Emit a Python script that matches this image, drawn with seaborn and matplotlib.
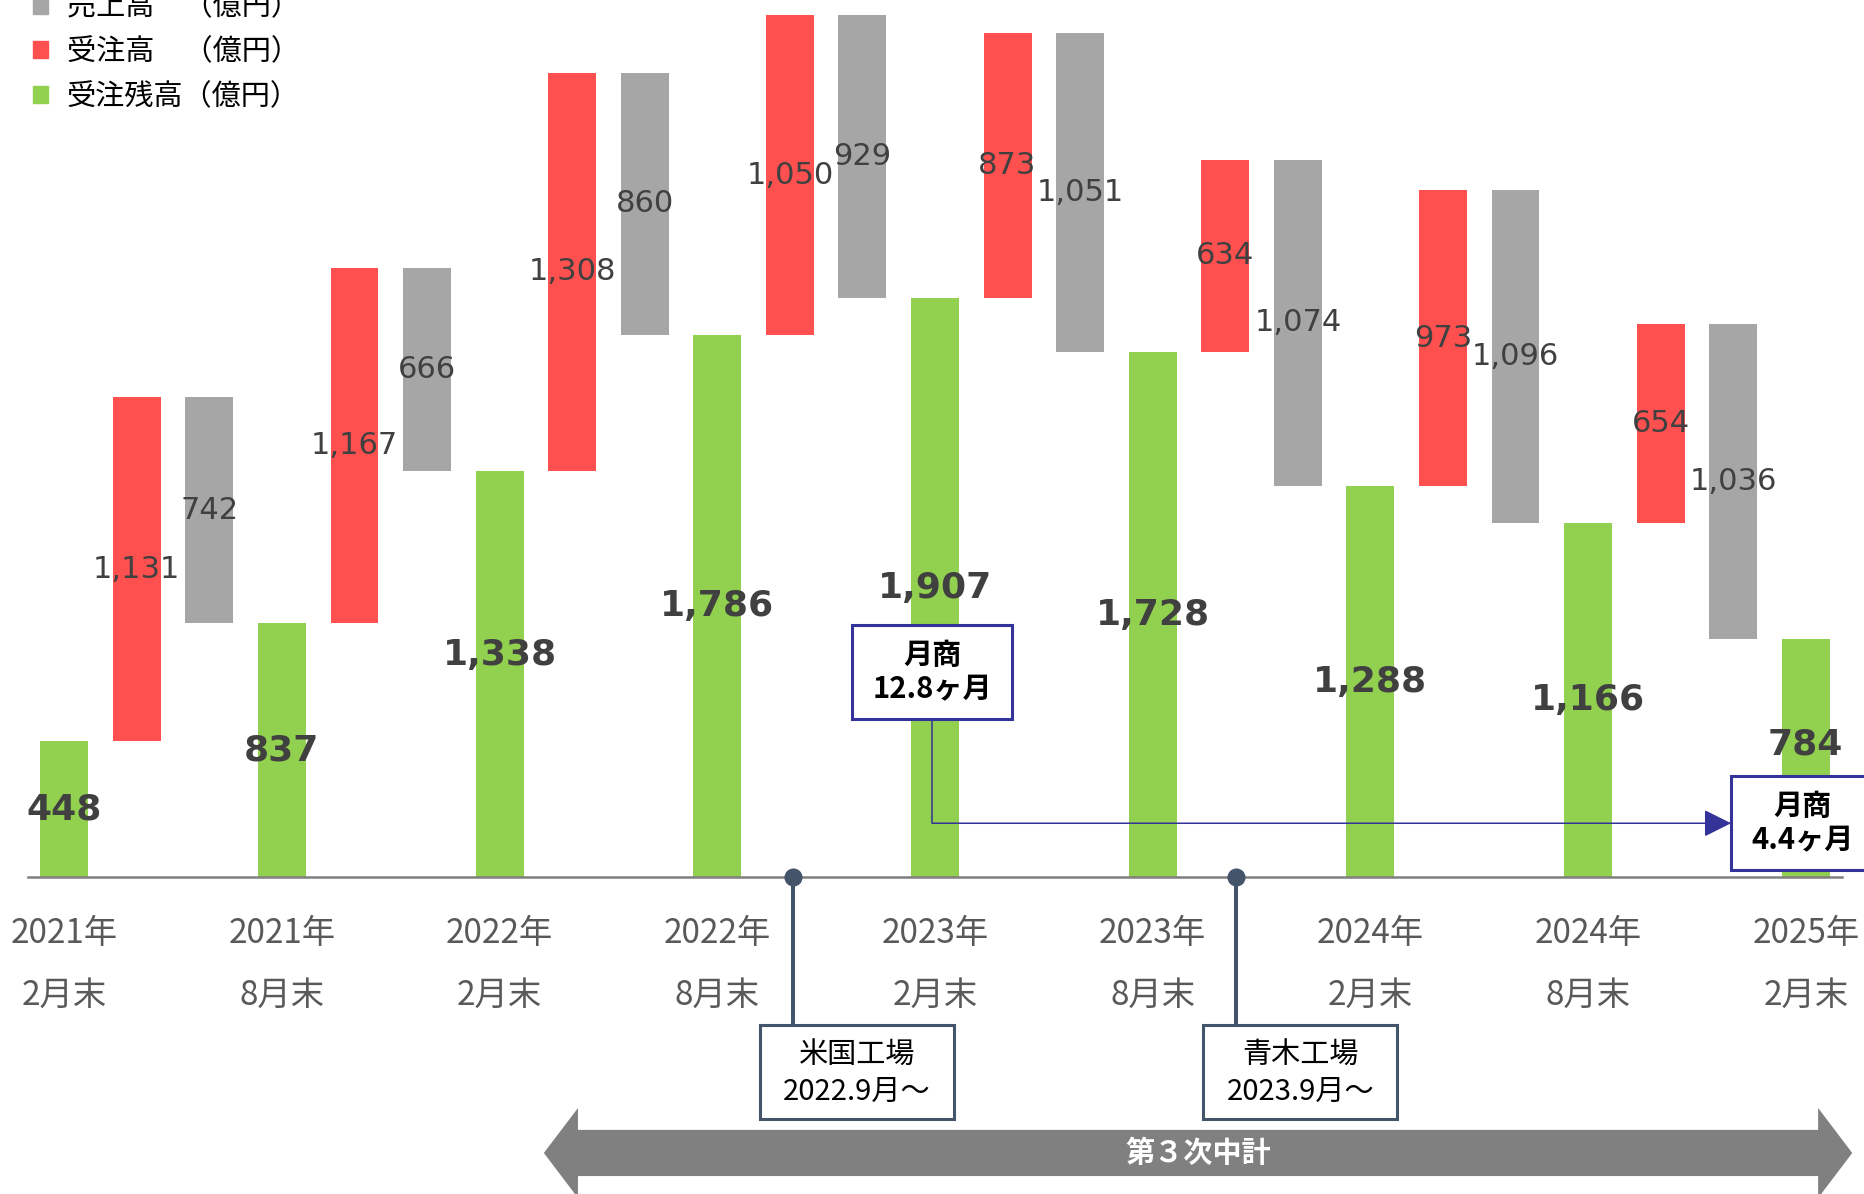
import numpy as np
import matplotlib
matplotlib.use("Agg")
import matplotlib.pyplot as plt
import matplotlib.patches as mpatches
import seaborn as sns

# 期末（半期ごと）
periods = ["2021年\n2月末", "2021年\n8月末", "2022年\n2月末", "2022年\n8月末", "2023年\n2月末",
           "2023年\n8月末", "2024年\n2月末", "2024年\n8月末", "2025年\n2月末"]
# 受注残高（億円）
backlog = [448, 837, 1338, 1786, 1907, 1728, 1288, 1166, 784]
# 半期の受注高（億円）
orders = [1131, 1167, 1308, 1050, 873, 634, 973, 654]
# 半期の売上高（億円）
sales = [742, 666, 860, 929, 1051, 1074, 1096, 1036]

legend_labels = ["売上高　（億円）", "受注高　（億円）", "受注残高（億円）"]
coverage_labels = ["月商\n12.8ヶ月", "月商\n4.4ヶ月"]
plant_labels = ["米国工場\n2022.9月～", "青木工場\n2023.9月～"]
plan_label = "第３次中計"

GREEN = "#92D050"
RED = "#FF5050"
GREY = "#A6A6A6"
NUM_COLOR = "#404040"
TICK_COLOR = "#595959"
NAVY = "#333399"
SLATE = "#44546A"

sns.set_theme(style="white")
plt.rcParams["font.family"] = ["Noto Sans CJK JP", "DejaVu Sans"]

fig = plt.figure(figsize=(18.64, 11.94), dpi=100)
ax = fig.add_axes([0, 0, 1, 1])

# each period occupies three slots: backlog, orders, sales
n = len(backlog)
green_x = 3 * np.arange(n)
red_x = green_x[:-1] + 1
grey_x = green_x[:-1] + 2
bar_w = 0.66

backlog_a = np.array(backlog)
orders_a = np.array(orders)
sales_a = np.array(sales)
grey_bottom = backlog_a[:-1] + orders_a - sales_a

sns.barplot(x=green_x, y=backlog, native_scale=True, orient="x", width=bar_w / 3,
            color=GREEN, saturation=1, errorbar=None, linewidth=0, ax=ax, zorder=2)
green_bars = ax.containers[-1]
sns.barplot(x=red_x, y=orders, bottom=backlog[:-1], native_scale=True, orient="x",
            width=bar_w / 3, color=RED, saturation=1, errorbar=None, linewidth=0, ax=ax, zorder=2)
red_bars = ax.containers[-1]
sns.barplot(x=grey_x, y=sales, bottom=grey_bottom, native_scale=True, orient="x",
            width=bar_w / 3, color=GREY, saturation=1, errorbar=None, linewidth=0, ax=ax, zorder=2)
grey_bars = ax.containers[-1]

ax.set_xlim(-0.8845, 24.802)
ax.set_ylim(-1042, 2887)
ax.set_xlabel("")
ax.set_ylabel("")

# value labels
ax.bar_label(red_bars, labels=[f"{v:,}" for v in orders], label_type="center",
             fontsize=22, color=NUM_COLOR, family="DejaVu Sans", zorder=4)
ax.bar_label(grey_bars, labels=[f"{v:,}" for v in sales], label_type="center",
             fontsize=22, color=NUM_COLOR, family="DejaVu Sans", zorder=4)
green_lift = [0, 0, 14, 0, 0, 0, 0, 0, 10]
for x, v, lift in zip(green_x, backlog, green_lift):
    ax.annotate(f"{v:,}", xy=(x, v / 2), xytext=(0, lift), textcoords="offset points",
                ha="center", va="center", fontsize=26, fontweight="bold",
                color=NUM_COLOR, family="DejaVu Sans", zorder=4)

# baseline and period labels
for side in ["top", "left", "right"]:
    ax.spines[side].set_visible(False)
ax.spines["bottom"].set_position(("data", 0))
ax.spines["bottom"].set_bounds(-0.5, 3 * n - 2.5)
ax.spines["bottom"].set_color("#808080")
ax.spines["bottom"].set_linewidth(1.8)
ax.spines["bottom"].set_zorder(3)
ax.set_yticks([])
ax.set_xticks(green_x, periods)
ax.tick_params(axis="x", length=0, pad=27.5, labelsize=24, labelcolor=TICK_COLOR)
for lbl in ax.get_xticklabels():
    lbl.set_linespacing(2.0)

# legend
handles = [mpatches.Patch(color=c) for c in (GREY, RED, GREEN)]
fig.legend(handles, legend_labels, loc="upper left", bbox_to_anchor=(33 / 1864, 1.0064),
           bbox_transform=fig.transFigure, frameon=False, fontsize=21, labelcolor="black",
           handlelength=0.52, handleheight=0.52, handletextpad=0.64,
           labelspacing=0.51, borderpad=0, borderaxespad=0)

# order coverage boxes and connector
box_w, box_h = 2.205, 309
cov_boxes = [(11.96, 675), (22.97 + box_w / 2, 178)]
cov_text_x = [11.96, 23.95]
for (cx, cy), tx, txt in zip(cov_boxes, cov_text_x, coverage_labels):
    ax.add_patch(mpatches.Rectangle((cx - box_w / 2, cy - box_h / 2), box_w, box_h,
                                    facecolor="white", edgecolor=NAVY, lw=2.2, zorder=6,
                                    clip_on=False))
    ax.text(tx, cy, txt, ha="center", va="center", fontsize=21, fontweight="bold",
            color="black", linespacing=1.16, zorder=7)
link_y = cov_boxes[1][1]
ax.vlines(cov_boxes[0][0], link_y, cov_boxes[0][1] - box_h / 2, color=NAVY, lw=1.1, zorder=5)
ax.annotate("", xy=(cov_boxes[1][0] - box_w / 2, link_y), xytext=(cov_boxes[0][0], link_y),
            arrowprops=dict(arrowstyle="-|>,head_length=1.0,head_width=0.5", mutation_scale=17,
                            color=NAVY, lw=1.1, shrinkA=0, shrinkB=0), zorder=5)

# plant start markers
plant_x = [10.04, 16.15]
pbox_w, pbox_h, pbox_cy = 2.67, 309, -640
for px, txt in zip(plant_x, plant_labels):
    left = px - 0.45
    ax.vlines(px, pbox_cy + pbox_h / 2, 0, color=SLATE, lw=2.9, zorder=5)
    ax.plot([px], [0], "o", ms=12, color=SLATE, zorder=6, clip_on=False)
    ax.add_patch(mpatches.Rectangle((left, pbox_cy - pbox_h / 2), pbox_w, pbox_h,
                                    facecolor="white", edgecolor=SLATE, lw=2.2, zorder=6))
    ax.text(left + pbox_w / 2, pbox_cy - 6, txt, ha="center", va="center", fontsize=21,
            color="black", linespacing=1.25, zorder=7)

# mid-term plan span arrow
xl, xr, hl = 6.61, 24.64, 0.47
yc, bh, hh = -907, 76, 148
verts = [(xl, yc), (xl + hl, yc + hh), (xl + hl, yc + bh), (xr - hl, yc + bh),
         (xr - hl, yc + hh), (xr, yc), (xr - hl, yc - hh), (xr - hl, yc - bh),
         (xl + hl, yc - bh), (xl + hl, yc - hh)]
ax.add_patch(mpatches.Polygon(verts, closed=True, facecolor="#808080", edgecolor="none",
                              zorder=3))
ax.text(15.63, yc, plan_label, ha="center", va="center", fontsize=21, fontweight="bold",
        color="white", zorder=4)

fig.savefig("out.png", dpi=100)
